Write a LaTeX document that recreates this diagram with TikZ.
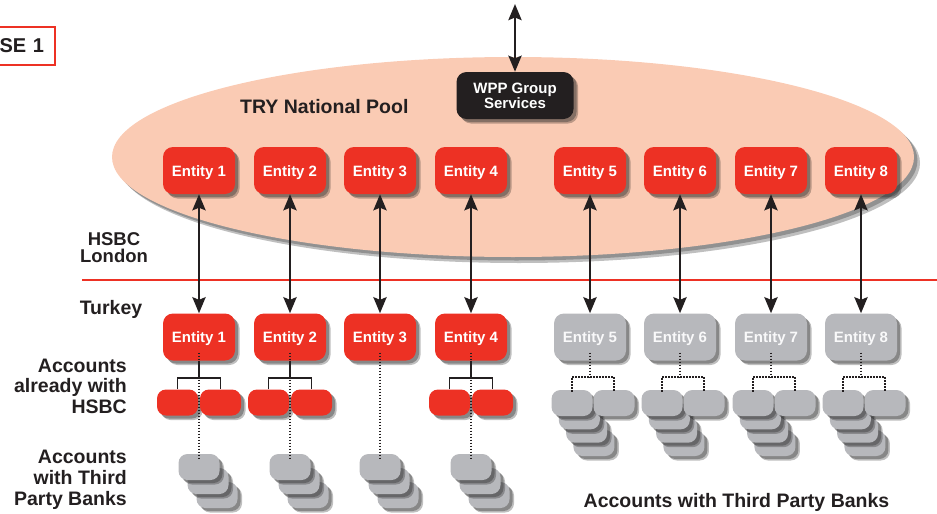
\documentclass[tikz,border=0pt]{standalone}
\usepackage{fontspec}
\setmainfont{Liberation Sans}
\usetikzlibrary{shadows,arrows.meta,shapes.geometric}
\definecolor{hred}{HTML}{ED3124}
\definecolor{peach}{HTML}{FACBB4}
\definecolor{hgrey}{HTML}{B7B8BC}
\definecolor{ink}{HTML}{231F20}
\tikzset{
  shad/.style={drop shadow={shadow xshift=4.5pt,shadow yshift=-4.5pt,opacity=.25,fill=black},
               drop shadow={shadow xshift=3pt,shadow yshift=-3pt,opacity=.4,fill=black!80}},
  entbox/.style={shad, rounded corners=10pt, minimum width=72pt, minimum height=47pt, inner sep=0pt,
    text height=11pt, text depth=0pt, font=\fontsize{15}{15}\selectfont\bfseries},
  redent/.style={entbox, fill=hred, text=white},
  greyent/.style={entbox, fill=hgrey, text=white!92!hgrey},
  accbox/.style={shad, rounded corners=9pt, minimum width=41pt, minimum height=26pt, inner sep=0pt},
  redacc/.style={accbox, fill=hred},
  greyacc/.style={accbox, fill=hgrey},
  biarrow/.style={draw=ink, line width=2.8pt, {Stealth[length=16pt,width=13pt,inset=2.5pt]}-{Stealth[length=16pt,width=13pt,inset=2.5pt]}},
  solidlink/.style={draw=ink, line width=1.5pt},
  dotlink/.style={draw=ink, line width=1.7pt, dash pattern=on 1.4pt off 1.6pt},
  lbl/.style={text=ink, font=\fontsize{19.5}{19.5}\selectfont\bfseries, inner sep=0pt},
}
\begin{document}
\begin{tikzpicture}[x=1pt,y=-1pt]
\useasboundingbox (0,0) rectangle (937,514);
\clip (0,0) rectangle (937,514);

% case label
\node[draw=hred, line width=2pt, anchor=east, minimum height=38pt, text width=78pt, align=right,
      inner xsep=11pt, inner ysep=0pt, text=ink, font=\fontsize{20}{20}\selectfont\bfseries] (case) at (56,46) {SE 1};

% national pool
\node[ellipse, fill=peach, minimum width=802pt, minimum height=200pt, inner sep=0pt,
      drop shadow={shadow xshift=6pt,shadow yshift=-6pt,opacity=.25,fill=black},
      drop shadow={shadow xshift=3.5pt,shadow yshift=-3.5pt,opacity=.4,fill=black!70}] (pool) at (513,157) {};
\node[lbl, anchor=base west] (poolname) at (240,113) {TRY National Pool};

% WPP group services
\node[shad, fill=ink, rounded corners=10pt, minimum width=117pt, minimum height=47pt, inner sep=0pt,
      text=white, align=center, font=\fontsize{15}{12}\selectfont\bfseries] (wpp) at (515,95.5) {WPP Group\\Services};
\coordinate (up) at (515,4);
\draw[biarrow] (wpp.north) -- (up);

% separator
\coordinate (sepL) at (82,280);
\coordinate (sepR) at (937,280);
\draw[hred, line width=1.5pt] (sepL) -- (sepR);

% entities
\foreach \i/\x in {1/199,2/290,3/380,4/471} {
  \node[redent] (t\i) at (\x,170.5) {Entity \i};
  \node[redent] (b\i) at (\x,337) {Entity \i};
}
\foreach \i/\x in {5/590,6/680,7/771,8/861} {
  \node[redent] (t\i) at (\x,170.5) {Entity \i};
  \node[greyent] (b\i) at (\x,337) {Entity \i};
}
\foreach \i in {1,...,8} \draw[biarrow] (t\i.south) -- (b\i.north);

% third party stacks for entities 1-4
\foreach \i/\x in {1/199,2/290,3/380,4/471} {
  \node[greyacc] (sc\i) at (\x+18,495) {};
  \node[greyacc] (sb\i) at (\x+9,481) {};
  \node[greyacc] (sa\i) at (\x,467) {};
}
% accounts already with HSBC
\foreach \i/\x in {1/199,2/290,4/471} {
  \node[redacc] (al\i) at (\x-21.5,402.5) {};
  \node[redacc] (ar\i) at (\x+21.5,402.5) {};
  \draw[solidlink] (b\i.south) -- ([yshift=-17.5pt]b\i.south);
  \draw[solidlink] (al\i.north) |- ([yshift=-17.5pt]b\i.south) -| (ar\i.north);
}
\foreach \i in {1,2,3,4}
  \draw[dotlink] ([yshift=8pt]b\i.south) -- ([yshift=-4pt]sa\i.north);

% third party accounts for entities 5-8
\foreach \i/\x in {5/590,6/680,7/771,8/861} {
  \node[greyacc] (gd\i) at (\x+3.9,443) {};
  \node[greyacc] (gc\i) at (\x-3.4,429.7) {};
  \node[greyacc] (gb\i) at (\x-10.7,416.3) {};
  \node[greyacc] (gl\i) at (\x-18,403) {};
  \node[greyacc] (gr\i) at (\x+24,403) {};
  \coordinate (m\i) at (\x,377);
  \draw[dotlink] ([yshift=8pt]b\i.south) -- (m\i);
  \draw[dotlink] ([yshift=-2pt]gl\i.north) |- (m\i) -| ([yshift=-2pt]gr\i.north);
}

% side labels
\node[lbl, font=\fontsize{18.5}{17}\selectfont\bfseries, align=center] (hsbcldn) at (114,247.5) {HSBC\\London};
\node[lbl, anchor=base] (turkey) at (111,314) {Turkey};
\node[lbl, anchor=base east] (acc1) at (127,372) {Accounts};
\node[lbl, anchor=base east] (acc2) at (127,392.5) {already with};
\node[lbl, anchor=base east] (acc3) at (127,413) {HSBC};
\node[lbl, anchor=base east] (tp1) at (127,463) {Accounts};
\node[lbl, anchor=base east] (tp2) at (127,484) {with Third};
\node[lbl, anchor=base east] (tp3) at (127,505) {Party Banks};
\node[lbl, anchor=base] (tpall) at (736.5,507) {Accounts with Third Party Banks};
\end{tikzpicture}
\end{document}
